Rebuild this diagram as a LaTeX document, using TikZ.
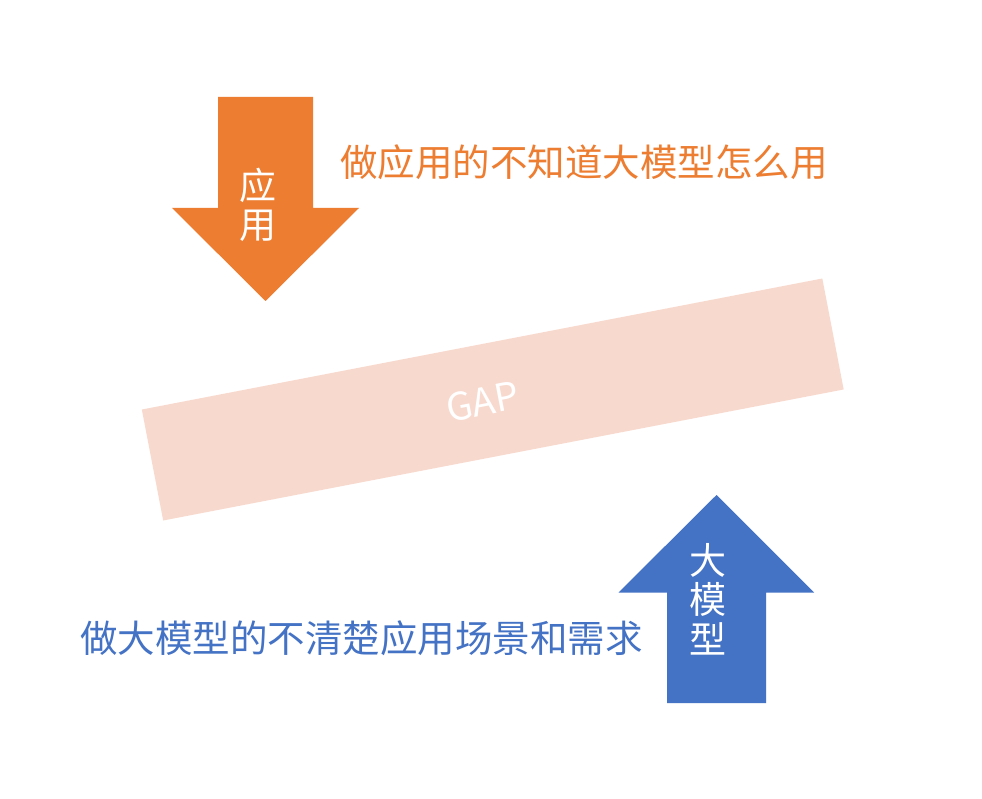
\documentclass[tikz,border=0pt]{standalone}
\usepackage{fontspec}
\setmainfont{Noto Sans CJK SC}
\definecolor{appor}{HTML}{ED7D31}
\definecolor{modbl}{HTML}{4472C4}
\definecolor{gapfill}{HTML}{F8D9CE}
\begin{document}
\begin{tikzpicture}[x=1pt,y=-1pt,
  bigtext/.style={font=\fontsize{37.5}{40}\selectfont, inner sep=0pt},
  arrowlabel/.style={font=\fontsize{37}{39.5}\selectfont, text=white, align=center, inner sep=0pt}]
\useasboundingbox[fill=white] (0,0) rectangle (982,799);
% GAP band with its label
\node[fill=gapfill, minimum width=693pt, minimum height=113pt, inner sep=0pt, rotate=10.9,
  text=white, font=\fontsize{38}{40}\selectfont] (gap) at (492.75,399.5) {\hspace*{-21pt}GAP};
% orange arrow
\fill[appor] (218,97) -- (313,97) -- (313,208) -- (359,208) -- (265.5,301) -- (172,208) -- (218,208) -- cycle;
\node[arrowlabel] (applab) at (258,205) {应\\用};
% blue arrow
\fill[modbl] (716.5,495) -- (814,592.5) -- (766,592.5) -- (766,703) -- (667,703) -- (667,592.5) -- (618.5,592.5) -- cycle;
\node[arrowlabel] (modlab) at (708,599) {大\\模\\型};
% texts
\node[bigtext, text=appor] (toptext) at (584,162) {做应用的不知道大模型怎么用};
\node[bigtext, text=modbl] (bottext) at (361.5,638) {做大模型的不清楚应用场景和需求};
\end{tikzpicture}
\end{document}
